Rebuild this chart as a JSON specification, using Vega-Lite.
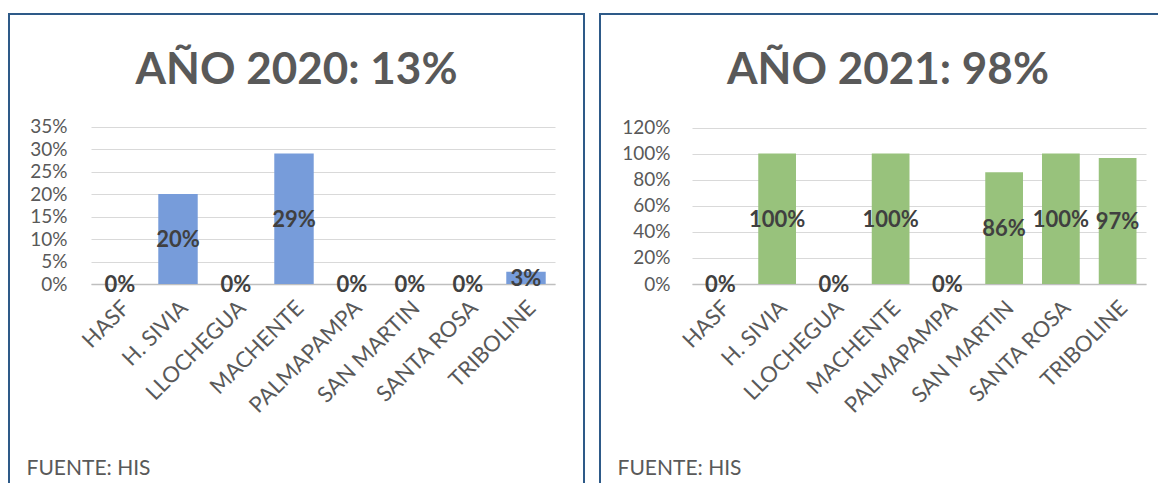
{
  "$schema": "https://vega.github.io/schema/vega-lite/v6.json",
  "padding": {"left": 8, "top": 13, "right": 0, "bottom": 0},
  "background": "white",
  "spacing": 14,
  "datasets": {
    "y2020": [
      {"c": "HASF", "v": 0},
      {"c": "H. SIVIA", "v": 0.20},
      {"c": "LLOCHEGUA", "v": 0},
      {"c": "MACHENTE", "v": 0.29},
      {"c": "PALMAPAMPA", "v": 0},
      {"c": "SAN MARTIN", "v": 0},
      {"c": "SANTA ROSA", "v": 0},
      {"c": "TRIBOLINE", "v": 0.027}
    ],
    "y2021": [
      {"c": "HASF", "v": 0},
      {"c": "H. SIVIA", "v": 1.0},
      {"c": "LLOCHEGUA", "v": 0},
      {"c": "MACHENTE", "v": 1.0},
      {"c": "PALMAPAMPA", "v": 0},
      {"c": "SAN MARTIN", "v": 0.857},
      {"c": "SANTA ROSA", "v": 1.0},
      {"c": "TRIBOLINE", "v": 0.966}
    ]
  },
  "hconcat": [
    {
      "width": 575,
      "height": 480,
      "data": {"name": "y2020"},
      "title": {"text": "AÑO 2020: 13%", "font": "Lato", "fontSize": 44, "fontWeight": "bold", "color": "#595959", "anchor": "middle", "frame": "group", "baseline": "alphabetic", "offset": -114},
      "layer": [
        {
          "mark": {"type": "bar", "color": "#779CDA"},
          "encoding": {
            "x": {"field": "c", "type": "nominal", "sort": null,
              "scale": {"range": [82, 546], "paddingInner": 0.32, "paddingOuter": 0.16},
              "axis": {"orient": "bottom", "offset": -210, "labelAngle": -45, "labelFont": "Lato", "labelFontSize": 22, "labelColor": "#595959", "ticks": false, "tickSize": 0, "labelPadding": 13, "labelOffset": -1, "domainColor": "#BFBFBF", "domainWidth": 1.5,
                "title": "FUENTE: HIS", "titleFont": "Lato", "titleFontSize": 21, "titleFontWeight": "normal", "titleColor": "#595959", "titleX": 17, "titleY": 190, "titleAlign": "left", "titleBaseline": "alphabetic", "titleAnchor": null}},
            "y": {"field": "v", "type": "quantitative",
              "scale": {"domain": [0, 0.35], "range": [270, 112.5], "nice": false},
              "axis": {"orient": "left", "offset": -82, "values": [0, 0.05, 0.1, 0.15, 0.2, 0.25, 0.3, 0.35], "format": ".0%", "labelFont": "Lato", "labelFontSize": 19, "labelColor": "#595959", "domain": false, "ticks": false, "tickSize": 0, "labelPadding": 24, "gridColor": "#D9D9D9", "title": null}}
          }
        },
        {
          "mark": {"type": "text", "font": "Lato", "fontSize": 22, "fontWeight": "bold", "color": "#404040", "baseline": "middle", "dy": 1},
          "encoding": {
            "x": {"field": "c", "type": "nominal", "sort": null},
            "y": {"field": "v", "type": "quantitative", "scale": {"domain": [0, 0.7], "range": [270, 112.5], "nice": false}, "axis": null},
            "text": {"field": "v", "type": "quantitative", "format": ".0%"}
          }
        }
      ],
      "resolve": {"scale": {"y": "independent"}}
    },
    {
      "width": 576,
      "height": 480,
      "data": {"name": "y2021"},
      "title": {"text": "AÑO 2021: 98%", "font": "Lato", "fontSize": 44, "fontWeight": "bold", "color": "#595959", "anchor": "middle", "frame": "group", "baseline": "alphabetic", "offset": -114},
      "layer": [
        {
          "mark": {"type": "bar", "color": "#98C27C"},
          "encoding": {
            "x": {"field": "c", "type": "nominal", "sort": null,
              "scale": {"range": [92, 546], "paddingInner": 0.335, "paddingOuter": 0.1675},
              "axis": {"orient": "bottom", "offset": -210, "labelAngle": -45, "labelFont": "Lato", "labelFontSize": 22, "labelColor": "#595959", "ticks": false, "tickSize": 0, "labelPadding": 13, "labelOffset": -1, "domainColor": "#BFBFBF", "domainWidth": 1.5,
                "title": "FUENTE: HIS", "titleFont": "Lato", "titleFontSize": 21, "titleFontWeight": "normal", "titleColor": "#595959", "titleX": 17, "titleY": 190, "titleAlign": "left", "titleBaseline": "alphabetic", "titleAnchor": null}},
            "y": {"field": "v", "type": "quantitative",
              "scale": {"domain": [0, 1.2], "range": [270, 113.5], "nice": false},
              "axis": {"orient": "left", "offset": -92, "values": [0, 0.2, 0.4, 0.6, 0.8, 1.0, 1.2], "format": ".0%", "labelFont": "Lato", "labelFontSize": 19, "labelColor": "#595959", "domain": false, "ticks": false, "tickSize": 0, "labelPadding": 22, "gridColor": "#D9D9D9", "title": null}}
          }
        },
        {
          "mark": {"type": "text", "font": "Lato", "fontSize": 22, "fontWeight": "bold", "color": "#404040", "baseline": "middle", "dy": 1},
          "encoding": {
            "x": {"field": "c", "type": "nominal", "sort": null},
            "y": {"field": "v", "type": "quantitative", "scale": {"domain": [0, 2.4], "range": [270, 113.5], "nice": false}, "axis": null},
            "text": {"field": "v", "type": "quantitative", "format": ".0%"}
          }
        }
      ],
      "resolve": {"scale": {"y": "independent"}}
    }
  ],
  "config": {
    "view": {"stroke": "#2E5A88", "strokeWidth": 2},
    "font": "Lato"
  }
}
